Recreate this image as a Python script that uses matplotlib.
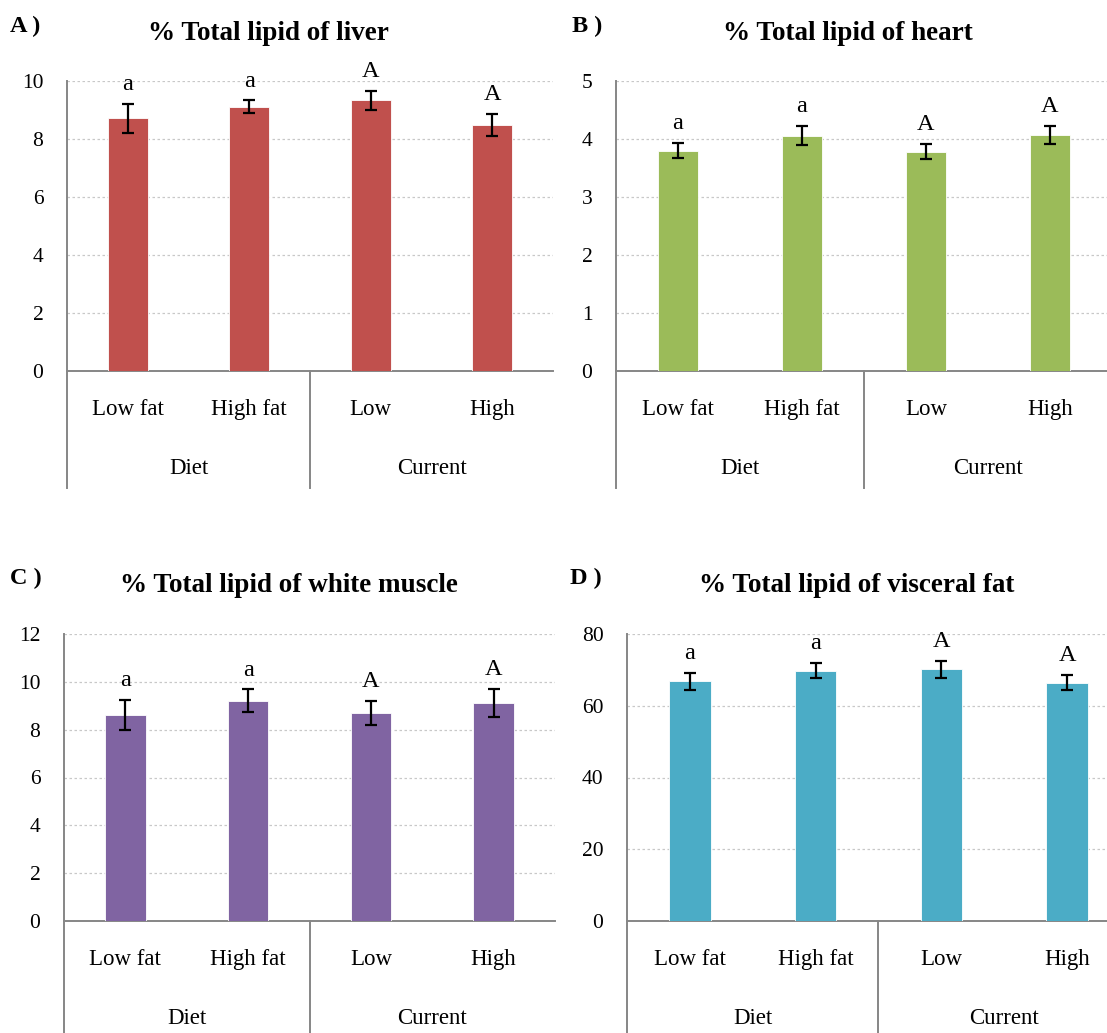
import matplotlib
matplotlib.use("Agg")
import matplotlib.pyplot as plt
import matplotlib.transforms as mtransforms
import numpy as np

plt.rcParams['font.family'] = ['Liberation Serif', 'DejaVu Serif']

# data
groups = ['Low fat', 'High fat', 'Low', 'High']
factors = ['Diet', 'Current']

liver_mean = [8.71, 9.11, 9.33, 8.47]
liver_err = [0.50, 0.22, 0.32, 0.38]
heart_mean = [3.80, 4.06, 3.78, 4.07]
heart_err = [0.13, 0.16, 0.13, 0.16]
muscle_mean = [8.61, 9.21, 8.69, 9.12]
muscle_err = [0.63, 0.47, 0.51, 0.60]
visceral_mean = [66.8, 69.8, 70.2, 66.4]
visceral_err = [2.4, 2.1, 2.4, 2.1]
letters = ['a', 'a', 'A', 'A']

titles = ['% Total lipid of liver', '% Total lipid of heart',
          '% Total lipid of white muscle', '% Total lipid of visceral fat']
panel_tags = ['A )', 'B )', 'C )', 'D )']

W, H = 1107, 1033
fig = plt.figure(figsize=(W / 100, H / 100), dpi=100)

def px_rect(left, right, top, bottom):
    return [left / W, 1 - bottom / H, (right - left) / W, (bottom - top) / H]

panels = [
    dict(rect=px_rect(67, 553, 81, 371), mean=liver_mean, err=liver_err,
         color='#C0504D', ymax=10, step=2, title_xy=(268, 33), tag_xy=(10, 26)),
    dict(rect=px_rect(616, 1112, 81, 371), mean=heart_mean, err=heart_err,
         color='#9BBB59', ymax=5, step=1, title_xy=(848, 33), tag_xy=(572, 26)),
    dict(rect=px_rect(64, 555, 634, 921), mean=muscle_mean, err=muscle_err,
         color='#8064A2', ymax=12, step=2, title_xy=(289, 585), tag_xy=(10, 578)),
    dict(rect=px_rect(627, 1130, 634, 921), mean=visceral_mean, err=visceral_err,
         color='#4BACC6', ymax=80, step=20, title_xy=(857, 585), tag_xy=(570, 578)),
]

grey = '#868686'
x = np.arange(len(groups))

for p, title, tag in zip(panels, titles, panel_tags):
    ax = fig.add_axes(p['rect'])
    ax.bar(x, p['mean'], 0.33, color=p['color'], edgecolor='white',
           linewidth=0.6, zorder=3)
    ax.errorbar(x, p['mean'], yerr=p['err'], fmt='none', ecolor='black',
                elinewidth=1.6, capsize=4.5, capthick=1.6, zorder=4)
    for xi, m, e, lab in zip(x, p['mean'], p['err'], letters):
        ax.annotate(lab, (xi, m + e), xytext=(0, 10), textcoords='offset points',
                    ha='center', va='baseline', fontsize=17.5, zorder=5)

    ax.set_xlim(-0.5, 3.5)
    ax.set_ylim(0, p['ymax'])
    ax.set_yticks(np.arange(0, p['ymax'] + p['step'] / 2, p['step']))
    ax.tick_params(axis='y', length=0, pad=17, labelsize=15.5)
    ax.set_xticks([])
    ax.yaxis.grid(True, color='#C8C8C8', linestyle=(0, (2, 2)), linewidth=0.9)
    ax.set_axisbelow(True)
    for s in ['top', 'right']:
        ax.spines[s].set_visible(False)
    for s in ['left', 'bottom']:
        ax.spines[s].set_color(grey)
        ax.spines[s].set_linewidth(1.4)

    # two-level category axis
    trans = mtransforms.blended_transform_factory(ax.transData, ax.transAxes)
    h_px = p['rect'][3] * H
    for xi, g in zip(x, groups):
        ax.annotate(g, (xi, 0), xycoords=trans, xytext=(0, -28),
                    textcoords='offset points', ha='center', va='center',
                    fontsize=16.5, annotation_clip=False)
    for k, f in enumerate(factors):
        ax.annotate(f, (2 * k + 0.5, 0), xycoords=trans, xytext=(0, -70),
                    textcoords='offset points', ha='center', va='center',
                    fontsize=16.5, annotation_clip=False)
    for sx in [-0.5, 1.5]:
        ax.plot([sx, sx], [0, -117 / h_px], transform=trans, color=grey,
                linewidth=1.4, clip_on=False)

    fig.text(p['title_xy'][0] / W, 1 - p['title_xy'][1] / H, title,
             ha='center', va='center', fontsize=19.5, fontweight='bold')
    fig.text(p['tag_xy'][0] / W, 1 - p['tag_xy'][1] / H, tag,
             ha='left', va='center', fontsize=17.5, fontweight='bold')

fig.savefig('out.png', dpi=100)
